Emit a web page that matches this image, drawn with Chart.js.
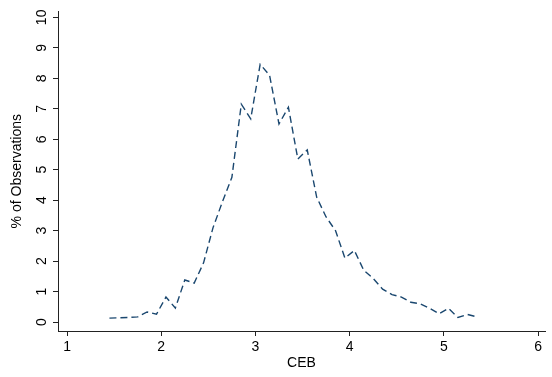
<!DOCTYPE html>
<html>
<head>
<meta charset="utf-8">
<script src="https://cdn.jsdelivr.net/npm/chart.js@4.4.1/dist/chart.umd.min.js"></script>
<style>
  html, body { margin: 0; padding: 0; background: #fff; }
  #chart { display: block; }
</style>
</head>
<body>
<canvas id="chart" width="552" height="377"></canvas>
<script>
// CEB values (bin midpoints) and % of observations
const ceb = [1.45, 1.55, 1.65, 1.75, 1.85, 1.95, 2.05, 2.15, 2.25, 2.35,
             2.45, 2.55, 2.65, 2.75, 2.85, 2.95, 3.05, 3.15, 3.25, 3.35,
             3.45, 3.55, 3.65, 3.75, 3.85, 3.95, 4.05, 4.15, 4.25, 4.35,
             4.45, 4.55, 4.65, 4.75, 4.85, 4.95, 5.05, 5.15, 5.25, 5.35];
const pctObs = [0.13, 0.14, 0.15, 0.17, 0.33, 0.26, 0.82, 0.46, 1.38, 1.28,
                1.95, 3.1, 3.95, 4.75, 7.15, 6.67, 8.46, 8.1, 6.5, 7.05,
                5.35, 5.65, 4.1, 3.45, 3.0, 2.1, 2.35, 1.7, 1.43, 1.08,
                0.9, 0.82, 0.65, 0.6, 0.45, 0.27, 0.45, 0.15, 0.25, 0.17];
const xTicks = [1, 2, 3, 4, 5, 6];
const yTicks = [0, 1, 2, 3, 4, 5, 6, 7, 8, 9, 10];

const font = { family: '"Liberation Sans", Arial, sans-serif', size: 14 };

const ctx = document.getElementById('chart').getContext('2d');
const chart = new Chart(ctx, {
    type: 'scatter',
    data: {
        datasets: [{
            label: 'CEB',
            data: ceb.map((x, i) => ({ x: x, y: pctObs[i] })),
            showLine: true,
            borderColor: '#1a476f',
            borderWidth: 1.4,
            borderDash: [7, 4],
            pointRadius: 0,
            tension: 0
        }]
    },
    options: {
        responsive: false,
        animation: false,
        layout: { padding: { top: 10, right: 7, left: 0, bottom: 0 } },
        plugins: {
            legend: { display: false },
            tooltip: { enabled: false }
        },
        scales: {
            x: {
                type: 'linear',
                min: 0.904,
                max: 6.074,
                afterBuildTicks: (s) => { s.ticks = xTicks.map(v => ({ value: v })); },
                afterFit: (s) => { s.height = 46; },
                grid: { drawOnChartArea: false, tickLength: 5, color: '#222', tickWidth: 1 },
                border: { display: true, color: '#222', width: 1 },
                ticks: { color: '#000', font: font, padding: 3, maxRotation: 0 },
                title: { display: true, text: 'CEB', color: '#000', font: font, padding: { top: 0, bottom: 5 } }
            },
            y: {
                type: 'linear',
                min: -0.294,
                max: 10.196,
                afterBuildTicks: (s) => { s.ticks = yTicks.map(v => ({ value: v })); },
                afterFit: (s) => { s.width = 58; },
                grid: { drawOnChartArea: false, tickLength: 5, color: '#222', tickWidth: 1 },
                border: { display: true, color: '#222', width: 1 },
                ticks: { color: '#000', font: font, padding: 3, minRotation: 90, maxRotation: 90, crossAlign: 'center' },
                title: { display: true, text: '% of Observations', color: '#000', font: font, padding: { top: 9, bottom: 0 } }
            }
        }
    }
});
</script>
</body>
</html>
